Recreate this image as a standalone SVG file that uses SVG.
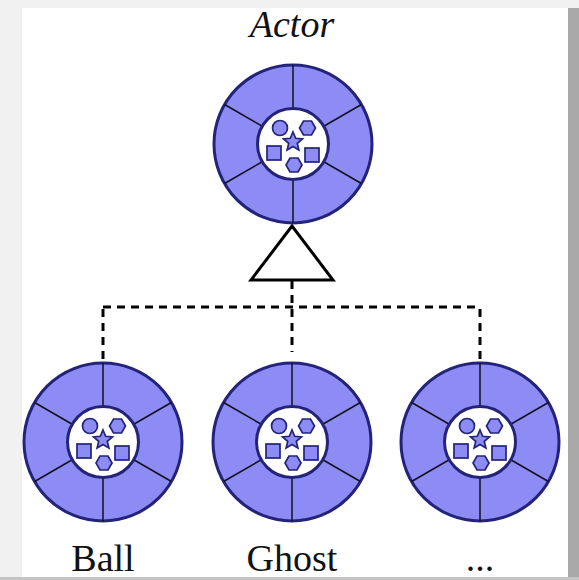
<svg xmlns="http://www.w3.org/2000/svg" xmlns:xlink="http://www.w3.org/1999/xlink" width="579" height="580" viewBox="0 0 579 580">
  <style>
    .rim { fill: #8c8cf4; stroke: #23237a; stroke-width: 3; }
    .hub { fill: #ffffff; stroke: #23237a; stroke-width: 3; }
    .spoke { stroke: #111122; stroke-width: 1.5; fill: none; }
    .part { fill: #8c8cf4; stroke: #23237a; stroke-width: 1.7; }
    .dash { stroke: #000; stroke-width: 3; fill: none; stroke-dasharray: 8 6; }
    .label { font-family: "Liberation Serif", "Times New Roman", serif; font-size: 38px; fill: #111; text-anchor: middle; }
  </style>
  <defs>
    <g id="wheel">
      <circle class="rim" cx="0" cy="0" r="79"/>
      <line class="spoke" x1="0" y1="-36" x2="0" y2="-79"/>
      <line class="spoke" x1="0" y1="36" x2="0" y2="79"/>
      <line class="spoke" x1="31.2" y1="-18" x2="68.4" y2="-39.5"/>
      <line class="spoke" x1="31.2" y1="18" x2="68.4" y2="39.5"/>
      <line class="spoke" x1="-31.2" y1="-18" x2="-68.4" y2="-39.5"/>
      <line class="spoke" x1="-31.2" y1="18" x2="-68.4" y2="39.5"/>
      <circle class="hub" cx="0" cy="0" r="35.5"/>
      <circle class="part" cx="-13" cy="-16" r="7.5"/>
      <polygon class="part" points="22.5,-16 18.5,-23 10.5,-23 6.5,-16 10.5,-9 18.5,-9"/>
      <polygon class="part" points="0,-12 2.7,-5.7 9.5,-5.1 4.3,-0.6 5.9,6.1 0,2.6 -5.9,6.1 -4.3,-0.6 -9.5,-5.1 -2.7,-5.7"/>
      <rect class="part" x="-26" y="2" width="14" height="14"/>
      <rect class="part" x="12" y="4" width="14" height="14"/>
      <polygon class="part" points="9,21 5,28 -3,28 -7,21 -3,14 5,14"/>
    </g>
  </defs>

  <!-- background with panel shadow -->
  <rect x="0" y="0" width="579" height="580" fill="#f1f1f1"/>
  <rect x="568" y="8" width="11" height="572" fill="#a8a8a8"/>
  <rect x="0" y="577" width="579" height="3" fill="#c4c4c4"/>
  <rect x="22" y="8" width="546" height="569" fill="#ffffff"/>

  <g id="connectors">
    <polygon points="292,226 251,280 333,280" fill="#ffffff" stroke="#000" stroke-width="3" stroke-linejoin="miter"/>
    <line class="dash" x1="292" y1="281" x2="292" y2="352"/>
    <line class="dash" x1="103" y1="307" x2="480" y2="307"/>
    <line class="dash" x1="103" y1="309" x2="103" y2="363"/>
    <line class="dash" x1="480" y1="309" x2="480" y2="363"/>
  </g>

  <g id="actor">
    <use xlink:href="#wheel" x="293" y="144"/>
    <text class="label" x="292" y="37" font-style="italic" font-size="37">Actor</text>
  </g>

  <g id="ball">
    <use xlink:href="#wheel" x="103" y="442"/>
    <text class="label" x="103" y="571">Ball</text>
  </g>

  <g id="ghost">
    <use xlink:href="#wheel" x="292" y="442"/>
    <text class="label" x="292" y="571">Ghost</text>
  </g>

  <g id="more">
    <use xlink:href="#wheel" x="480" y="442"/>
    <text class="label" x="480" y="571">...</text>
  </g>
</svg>
